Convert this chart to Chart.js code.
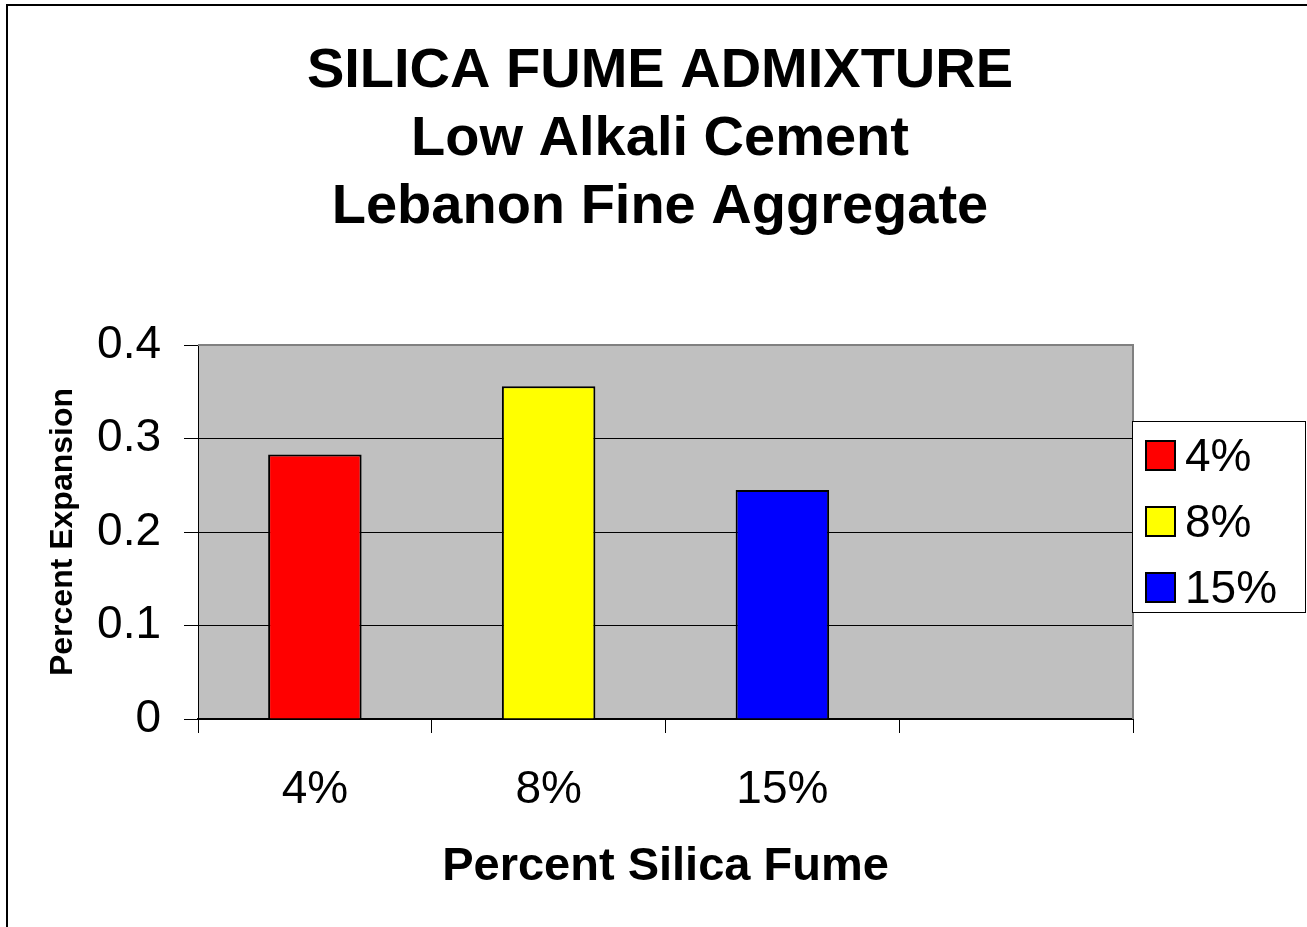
<!DOCTYPE html>
<html>
<head>
<meta charset="utf-8">
<script src="https://cdn.jsdelivr.net/npm/chart.js@4"></script>
<style>
  html, body { margin: 0; padding: 0; background: #fff; }
  #wrap { width: 1307px; height: 927px; }
</style>
</head>
<body>
<div id="wrap"><canvas id="chart" width="1307" height="927"></canvas></div>
<script>
const FONT = 'Arial, "Liberation Sans", sans-serif';

const titleLines = ['SILICA FUME ADMIXTURE', 'Low Alkali Cement', 'Lebanon Fine Aggregate'];
const categories = ['4%', '8%', '15%', ''];
const expansion = [0.283, 0.356, 0.245, null];
const barColors = ['#FF0000', '#FFFF00', '#0000FF', '#FFFFFF'];
const yMin = 0;
const yMax = 0.4;
const yStep = 0.1;

// grey plot fill, outer frame, plot border and the boxed legend on the right
const excelFrame = {
  id: 'excelFrame',
  beforeDraw(chart) {
    const { ctx, chartArea: a } = chart;
    ctx.save();
    ctx.fillStyle = '#fff';
    ctx.fillRect(0, 0, chart.width, chart.height);
    ctx.strokeStyle = '#000';
    ctx.lineWidth = 2;
    ctx.strokeRect(7, 5, chart.width + 20, chart.height + 20);
    ctx.fillStyle = '#C0C0C0';
    ctx.fillRect(a.left, a.top, a.right - a.left, a.bottom - a.top);
    ctx.restore();
  },
  afterDatasetsDraw(chart) {
    const { ctx, chartArea: a } = chart;
    ctx.save();
    ctx.strokeStyle = '#808080';
    ctx.lineWidth = 2;
    ctx.beginPath();
    ctx.moveTo(a.left, a.top);
    ctx.lineTo(a.right, a.top);
    ctx.lineTo(a.right, a.bottom);
    ctx.stroke();
    ctx.restore();
  },
  afterDraw(chart) {
    const { ctx } = chart;
    const ds = chart.data.datasets[0];
    const items = chart.data.labels.filter((l) => l !== '');
    ctx.save();
    ctx.fillStyle = '#fff';
    ctx.fillRect(1132, 421, 173, 191);
    ctx.strokeStyle = '#000';
    ctx.lineWidth = 1;
    ctx.strokeRect(1132.5, 421.5, 173, 191);
    ctx.font = '46px ' + FONT;
    ctx.textBaseline = 'middle';
    items.forEach((label, i) => {
      const cy = 456 + i * 66;
      ctx.fillStyle = ds.backgroundColor[i];
      ctx.fillRect(1146, cy - 15, 29, 29);
      ctx.lineWidth = 2;
      ctx.strokeRect(1146, cy - 15, 29, 29);
      ctx.fillStyle = '#000';
      ctx.fillText(label, 1185, cy + 2);
    });
    ctx.restore();
  }
};

new Chart(document.getElementById('chart'), {
  type: 'bar',
  data: {
    labels: categories,
    datasets: [{
      label: 'Percent Expansion',
      data: expansion,
      backgroundColor: barColors,
      borderColor: '#000',
      borderWidth: 2,
      barPercentage: 0.4,
      categoryPercentage: 1.0
    }]
  },
  options: {
    responsive: false,
    animation: false,
    layout: { padding: { left: 13, right: 0, top: 0, bottom: 0 } },
    plugins: {
      legend: { display: false },
      tooltip: { enabled: false },
      title: {
        display: true,
        text: titleLines,
        color: '#000',
        font: { family: FONT, size: 56, weight: 'bold', lineHeight: 68 / 56 },
        padding: { top: 38, bottom: 103 }
      }
    },
    scales: {
      x: {
        afterFit(scale) { scale.height = 208; },
        grid: {
          drawOnChartArea: false,
          drawTicks: true,
          tickLength: 14,
          tickColor: '#000',
          tickWidth: 1
        },
        border: { color: '#000', width: 2 },
        ticks: {
          color: '#000',
          padding: 30,
          font: { family: FONT, size: 46 }
        },
        title: {
          display: true,
          text: 'Percent Silica Fume',
          color: '#000',
          font: { family: FONT, size: 47, weight: 'bold' },
          padding: { top: 0, bottom: 32 }
        }
      },
      y: {
        min: yMin,
        max: yMax,
        afterFit(scale) { scale.width = 185; },
        ticks: {
          stepSize: yStep,
          color: '#000',
          padding: 23,
          font: { family: FONT, size: 46 }
        },
        grid: {
          color: (ctx) => (ctx.tick && ctx.tick.value === yMax ? '#808080' : '#000'),
          lineWidth: 1,
          drawTicks: true,
          tickLength: 14,
          tickColor: '#000'
        },
        border: { color: '#000', width: 1 },
        title: {
          display: true,
          text: 'Percent Expansion',
          color: '#000',
          font: { family: FONT, size: 32, weight: 'bold' },
          padding: { top: 31, bottom: 0 }
        }
      },
      // empty right-hand axis: keeps the legend column clear of the plot
      legendGutter: {
        type: 'linear',
        position: 'right',
        display: true,
        afterFit(scale) { scale.width = 174; },
        grid: { display: false, drawTicks: false },
        border: { display: false },
        ticks: { display: false }
      }
    }
  },
  plugins: [excelFrame]
});
</script>
</body>
</html>
